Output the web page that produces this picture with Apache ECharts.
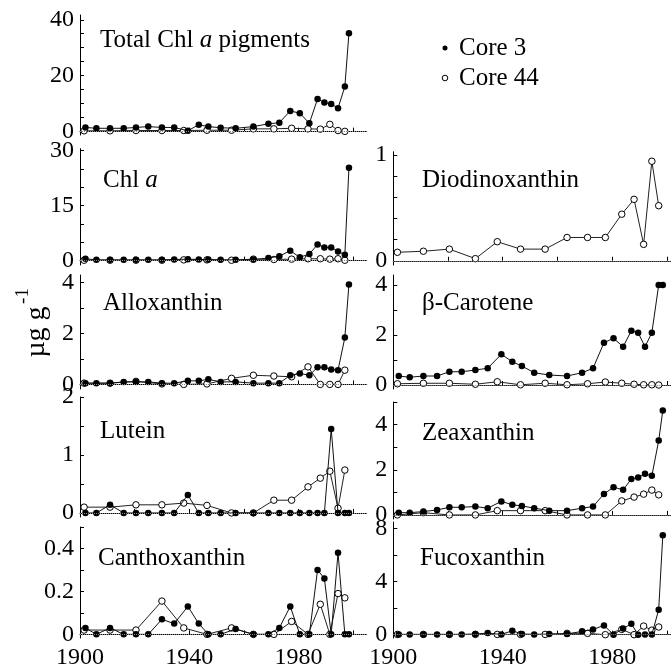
<!DOCTYPE html>
<html>
<head>
<meta charset="utf-8">
<script src="https://cdn.jsdelivr.net/npm/echarts@6/dist/echarts.min.js"></script>
<style>
  html, body { margin: 0; padding: 0; background: #fff; }
  #chart { width: 671px; height: 670px; }
</style>
</head>
<body>
<div id="chart"></div>
<script>
// Sample ages (year AD) of the two sediment cores
const yearsCore3 = [1902, 1906, 1911, 1916, 1920.5, 1925, 1930, 1934.5, 1939.5, 1943.5, 1947, 1951.5, 1957, 1963.5, 1969, 1973, 1977, 1980.5, 1984, 1987, 1989.5, 1992, 1994.5, 1997, 1998.5];
const yearsCore44 = [1901.5, 1911, 1920.5, 1930, 1938, 1946.5, 1955.5, 1963.5, 1971, 1977.5, 1983.5, 1988, 1991.5, 1994.5, 1997];

// Pigment concentrations, µg per g
const totalChlCore3 = [1.5, 1.2, 1.2, 1.2, 1.5, 1.8, 1.5, 1.5, 0.3, 2.5, 1.8, 1.4, 1.2, 1.8, 2.8, 3.2, 7.4, 6.6, 3.0, 11.7, 10.4, 9.9, 8.4, 16.1, 35.2];
const totalChlCore44 = [0.3, 0.3, 0.4, 0.4, 0.4, 0.5, 0.5, 1.0, 1.0, 1.2, 1.0, 0.9, 2.6, 0.4, 0.1];

const chlACore3 = [0.5, 0.2, 0.2, 0.2, 0.2, 0.2, 0.2, 0.3, 0.4, 0.3, 0.3, 0.2, 0.2, 0.3, 0.7, 1.2, 2.7, 0.9, 1.8, 4.4, 3.6, 3.6, 2.5, 1.6, 25.3];
const chlACore44 = [0.1, 0.1, 0.1, 0.1, 0.2, 0.2, 0.1, 0.4, 0.3, 0.4, 0.5, 0.5, 0.4, 0.5, 0.1];

const diadinoCore44 = [0.08, 0.09, 0.11, 0.02, 0.18, 0.11, 0.11, 0.22, 0.22, 0.22, 0.44, 0.58, 0.155, 0.94, 0.52];

const alloCore3 = [0.05, 0.05, 0.05, 0.1, 0.1, 0.1, 0.05, 0.05, 0.14, 0.14, 0.2, 0.1, 0.1, 0.05, 0.05, 0.05, 0.36, 0.43, 0.36, 0.67, 0.67, 0.59, 0.56, 1.84, 3.93];
const alloCore44 = [0.05, 0.05, 0.12, 0.02, 0, 0.02, 0.24, 0.36, 0.33, 0.3, 0.69, 0, 0, 0, 0.56];

const betaCore3 = [0.36, 0.31, 0.36, 0.36, 0.53, 0.53, 0.6, 0.67, 1.23, 0.93, 0.76, 0.49, 0.4, 0.36, 0.49, 0.67, 1.69, 1.87, 1.53, 2.17, 2.09, 1.53, 2.09, 4.0, 4.0];
const betaCore44 = [0.05, 0.07, 0.07, 0.03, 0.13, 0.01, 0.07, 0.01, 0.05, 0.12, 0.07, 0.03, 0.01, 0.01, 0.0];

const luteinCore3 = [0, 0, 0.14, 0, 0, 0, 0, 0, 0.31, 0, 0, 0, 0, 0, 0, 0, 0, 0, 0, 0, 0, 1.45, 0, 0, 0];
const luteinCore44 = [0.1, 0.1, 0.14, 0.14, 0.17, 0.13, 0, 0, 0.22, 0.22, 0.45, 0.6, 0.72, 0.08, 0.74];

const zeaCore3 = [0.1, 0.1, 0.15, 0.22, 0.34, 0.34, 0.37, 0.3, 0.6, 0.45, 0.4, 0.3, 0.19, 0.19, 0.3, 0.37, 0.93, 1.23, 1.11, 1.59, 1.66, 1.82, 1.73, 3.29, 4.62];
const zeaCore44 = [0, 0.1, 0, 0, 0.19, 0.19, 0.19, 0, 0, 0, 0.62, 0.79, 0.92, 1.1, 0.89];

const canthoCore3 = [0.03, 0, 0.03, 0, 0, 0, 0.07, 0.05, 0.13, 0.05, 0, 0, 0.025, 0, 0, 0.03, 0.13, 0, 0, 0.3, 0.26, 0, 0.38, 0, 0];
const canthoCore44 = [0.02, 0.02, 0.02, 0.155, 0.03, 0, 0.03, 0, 0, 0.06, 0, 0.14, 0, 0.19, 0.17];

const fucoCore3 = [0.02, 0.02, 0.02, 0.02, 0.02, 0.02, 0.05, 0.12, 0.02, 0.3, 0.05, 0.02, 0.05, 0.05, 0.25, 0.39, 0.7, 0, 0.46, 0.82, 0, 0.02, 0.02, 1.88, 7.5];
const fucoCore44 = [0.02, 0.02, 0.02, 0.02, 0.02, 0.02, 0.02, 0.1, 0.1, 0, 0.4, 0, 0.65, 0.34, 0.58];

// Axis tick labels
const yearTicks = [1900, 1920, 1940, 1960, 1980, 2000];
const yearLabels = [1900, 1940, 1980];

const FONT = 'Liberation Serif, Times New Roman, serif';

// Column geometry: left edge, last year shown, plot width
const columns = [
  { left: 80, xMax: 2005, width: 286.7 },
  { left: 393.3, xMax: 2001.5, width: 277.7 }
];

// Panel layout: vertical extent, value range and axis marks
const panels = [
  { title: '{n|Total Chl }{i|a}{n| pigments}', c3: totalChlCore3, c44: totalChlCore44, col: 0,
    top: 15, bottom: 135, min: -1.2, max: 41.7, labels: [0, 20, 40], ticks: [0, 5, 10, 15, 20, 25, 30, 35, 40], tx: 100, ty: 42 },
  { title: '{n|Chl }{i|a}', c3: chlACore3, c44: chlACore44, col: 0,
    top: 148.7, bottom: 265, min: -1.2, max: 30.5, labels: [0, 15, 30], ticks: [0, 5, 10, 15, 20, 25, 30], tx: 103, ty: 182 },
  { title: '{n|Diodinoxanthin}', c3: null, c44: diadinoCore44, col: 1,
    top: 151.7, bottom: 265, min: -0.04, max: 1.03, labels: [0, 1], ticks: [0, 0.2, 0.4, 0.6, 0.8, 1], tx: 422, ty: 182 },
  { title: '{n|Alloxanthin}', c3: alloCore3, c44: alloCore44, col: 0,
    top: 275, bottom: 389, min: -0.18, max: 4.3, labels: [0, 2, 4], ticks: [0, 1, 2, 3, 4], tx: 103, ty: 305 },
  { title: '{n|β-Carotene}', c3: betaCore3, c44: betaCore44, col: 1,
    top: 275, bottom: 389, min: -0.16, max: 4.4, labels: [0, 2, 4], ticks: [0, 1, 2, 3, 4], tx: 422, ty: 305 },
  { title: '{n|Lutein}', c3: luteinCore3, c44: luteinCore44, col: 0,
    top: 397, bottom: 517, min: -0.07, max: 2.0, labels: [0, 1, 2], ticks: [0, 0.5, 1, 1.5, 2], tx: 100, ty: 433 },
  { title: '{n|Zeaxanthin}', c3: zeaCore3, c44: zeaCore44, col: 1,
    top: 402, bottom: 519, min: -0.18, max: 5.0, labels: [0, 2, 4], ticks: [0, 1, 2, 3, 4, 5], tx: 422, ty: 435 },
  { title: '{n|Canthoxanthin}', c3: canthoCore3, c44: canthoCore44, col: 0, xLabels: true,
    top: 527, bottom: 642, min: -0.017, max: 0.5, labels: [0, 0.2, 0.4], ticks: [0, 0.1, 0.2, 0.3, 0.4, 0.5], tx: 98, ty: 560 },
  { title: '{n|Fucoxanthin}', c3: fucoCore3, c44: fucoCore44, col: 1, xLabels: true,
    top: 522, bottom: 645, min: -0.25, max: 8.5, labels: [0, 4, 8], ticks: [0, 2, 4, 6, 8], tx: 420, ty: 560 }
];

const pairs = (xs, ys) => ys.map((v, i) => [xs[i], v]);

const grid = [], xAxis = [], yAxis = [], series = [], graphic = [];

panels.forEach((p, k) => {
  const c = columns[p.col];
  grid.push({ left: c.left, top: p.top, width: c.width, height: p.bottom - p.top });
  xAxis.push({
    type: 'value', gridIndex: k, min: 1900, max: c.xMax,
    axisLine: { show: true, lineStyle: { color: '#000', width: 1 } },
    axisTick: { show: true, inside: true, length: 4, customValues: yearTicks, lineStyle: { color: '#000' } },
    axisLabel: p.xLabels
      ? { show: true, customValues: yearLabels, fontFamily: FONT, fontSize: 24, color: '#000', margin: 8,
          formatter: v => String(v) }
      : { show: false },
    splitLine: { show: false }
  });
  yAxis.push({
    type: 'value', gridIndex: k, min: p.min, max: p.max,
    axisLine: { show: true, lineStyle: { color: '#000', width: 1 } },
    axisTick: { show: true, inside: true, length: 4, customValues: p.ticks, lineStyle: { color: '#000' } },
    axisLabel: { customValues: p.labels, fontFamily: FONT, fontSize: 24, color: '#000', margin: 6,
                 formatter: v => String(v) },
    splitLine: { show: false }
  });

  const zeroLine = {
    silent: true, symbol: ['none', 'none'], animation: false,
    label: { show: false },
    lineStyle: { type: 'dotted', color: '#8a8a8a', width: 1 },
    data: [{ yAxis: 0 }]
  };

  series.push({
    name: 'Core 44', type: 'line', xAxisIndex: k, yAxisIndex: k,
    data: pairs(yearsCore44, p.c44),
    symbol: 'circle', symbolSize: 6.5,
    lineStyle: { color: '#222', width: 1 },
    itemStyle: { color: '#fff', borderColor: '#000', borderWidth: 1 },
    markLine: zeroLine,
    z: 2
  });
  if (p.c3) {
    series.push({
      name: 'Core 3', type: 'line', xAxisIndex: k, yAxisIndex: k,
      data: pairs(yearsCore3, p.c3),
      symbol: 'circle', symbolSize: 6.5,
      lineStyle: { color: '#111', width: 1 },
      itemStyle: { color: '#000', borderColor: '#000', borderWidth: 0 },
      z: 3
    });
  }

  graphic.push({
    type: 'text', left: p.tx, top: p.ty - 14,
    style: {
      text: p.title,
      rich: {
        n: { fontFamily: FONT, fontSize: 25, fill: '#000' },
        i: { fontFamily: FONT, fontSize: 25, fontStyle: 'italic', fill: '#000' }
      }
    }
  });
});

// Legend
graphic.push(
  { type: 'circle', shape: { cx: 445, cy: 48, r: 2.5 }, style: { fill: '#000' } },
  { type: 'circle', shape: { cx: 445, cy: 78, r: 2.8 }, style: { fill: '#fff', stroke: '#000', lineWidth: 1 } },
  { type: 'text', x: 459, y: 48, style: { text: 'Core 3', fontFamily: FONT, fontSize: 25, fill: '#000', verticalAlign: 'middle' } },
  { type: 'text', x: 459, y: 78, style: { text: 'Core 44', fontFamily: FONT, fontSize: 25, fill: '#000', verticalAlign: 'middle' } }
);

// Shared y-axis unit, µg g with a raised -1
graphic.push(
  {
    type: 'text', x: 37, y: 332, rotation: Math.PI / 2,
    style: { text: 'µg g', fontFamily: FONT, fontSize: 28, fill: '#000', align: 'center', verticalAlign: 'middle' }
  },
  {
    type: 'text', x: 23, y: 296, rotation: Math.PI / 2,
    style: { text: '-1', fontFamily: FONT, fontSize: 19, fill: '#000', align: 'center', verticalAlign: 'middle' }
  }
);

const chart = echarts.init(document.getElementById('chart'), null, { renderer: 'canvas' });
chart.setOption({
  animation: false,
  backgroundColor: '#fff',
  grid, xAxis, yAxis, series, graphic
});
</script>
</body>
</html>
